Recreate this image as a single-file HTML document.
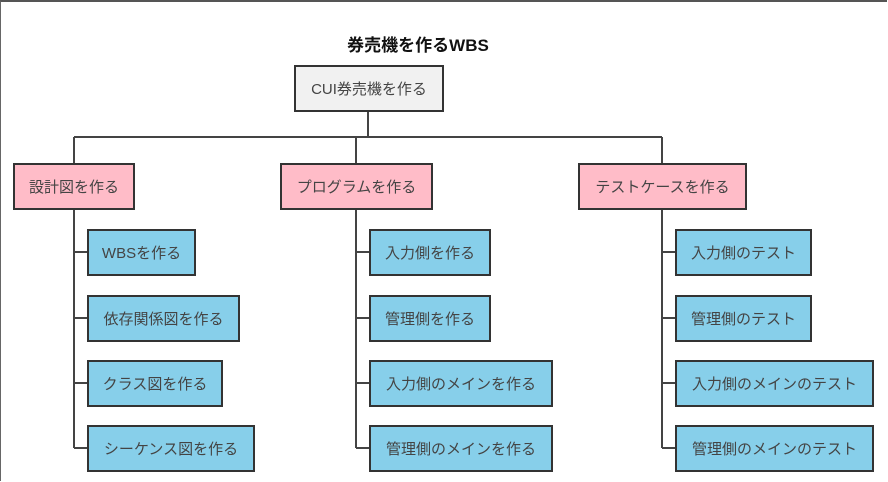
<!DOCTYPE html>
<html><head><meta charset="utf-8"><style>
html,body{margin:0;padding:0;background:#fff;}
body{width:888px;height:482px;overflow:hidden;position:relative;font-family:"Liberation Sans","Noto Sans CJK JP",sans-serif;}
.frame{position:absolute;left:0;top:0;width:887px;height:481px;border-top:2px solid #555;border-left:1px solid #666;box-sizing:border-box;}
.b{position:absolute;box-sizing:border-box;border:2px solid #333;display:flex;align-items:center;justify-content:center;font-size:15px;color:#444;white-space:nowrap;}
.g{background:#f1f1f1}.p{background:#ffbcc8}.c{background:#87cfea}
.t{position:absolute;left:0;width:836px;text-align:center;top:31px;font-size:17px;font-weight:bold;color:#111;}
svg{position:absolute;left:0;top:0}
</style></head><body>
<div class="frame"></div>
<svg width="888" height="482"><g stroke="#444" stroke-width="2" fill="none">
<path d="M368 111V137M74 137H662M74 137V163M356 137V163M662 137V163"/>
<path d="M74 209V448M74 252H88M74 318H88M74 383H88M74 448H88"/>
<path d="M356 209V448M356 252H370M356 318H370M356 383H370M356 448H370"/>
<path d="M662 210V448M662 252H676M662 318H676M662 383H676M662 448H676"/>
</g></svg>
<div class="t">券売機を作るWBS</div>
<div class="b g" style="left:294px;top:65px;width:150px;height:47px">CUI券売機を作る</div>
<div class="b p" style="left:13px;top:163px;width:122px;height:47px">設計図を作る</div>
<div class="b p" style="left:280px;top:163px;width:153px;height:47px">プログラムを作る</div>
<div class="b p" style="left:578px;top:163px;width:169px;height:47px">テストケースを作る</div>
<div class="b c" style="left:87px;top:229px;width:109px;height:47px">WBSを作る</div>
<div class="b c" style="left:87px;top:295px;width:153px;height:47px">依存関係図を作る</div>
<div class="b c" style="left:87px;top:360px;width:136px;height:47px">クラス図を作る</div>
<div class="b c" style="left:87px;top:425px;width:168px;height:47px">シーケンス図を作る</div>
<div class="b c" style="left:369px;top:229px;width:122px;height:47px">入力側を作る</div>
<div class="b c" style="left:369px;top:295px;width:122px;height:47px">管理側を作る</div>
<div class="b c" style="left:369px;top:360px;width:184px;height:47px">入力側のメインを作る</div>
<div class="b c" style="left:369px;top:425px;width:184px;height:47px">管理側のメインを作る</div>
<div class="b c" style="left:675px;top:229px;width:137px;height:47px">入力側のテスト</div>
<div class="b c" style="left:675px;top:295px;width:137px;height:47px">管理側のテスト</div>
<div class="b c" style="left:675px;top:360px;width:199px;height:47px">入力側のメインのテスト</div>
<div class="b c" style="left:675px;top:425px;width:199px;height:47px">管理側のメインのテスト</div>
</body></html>
